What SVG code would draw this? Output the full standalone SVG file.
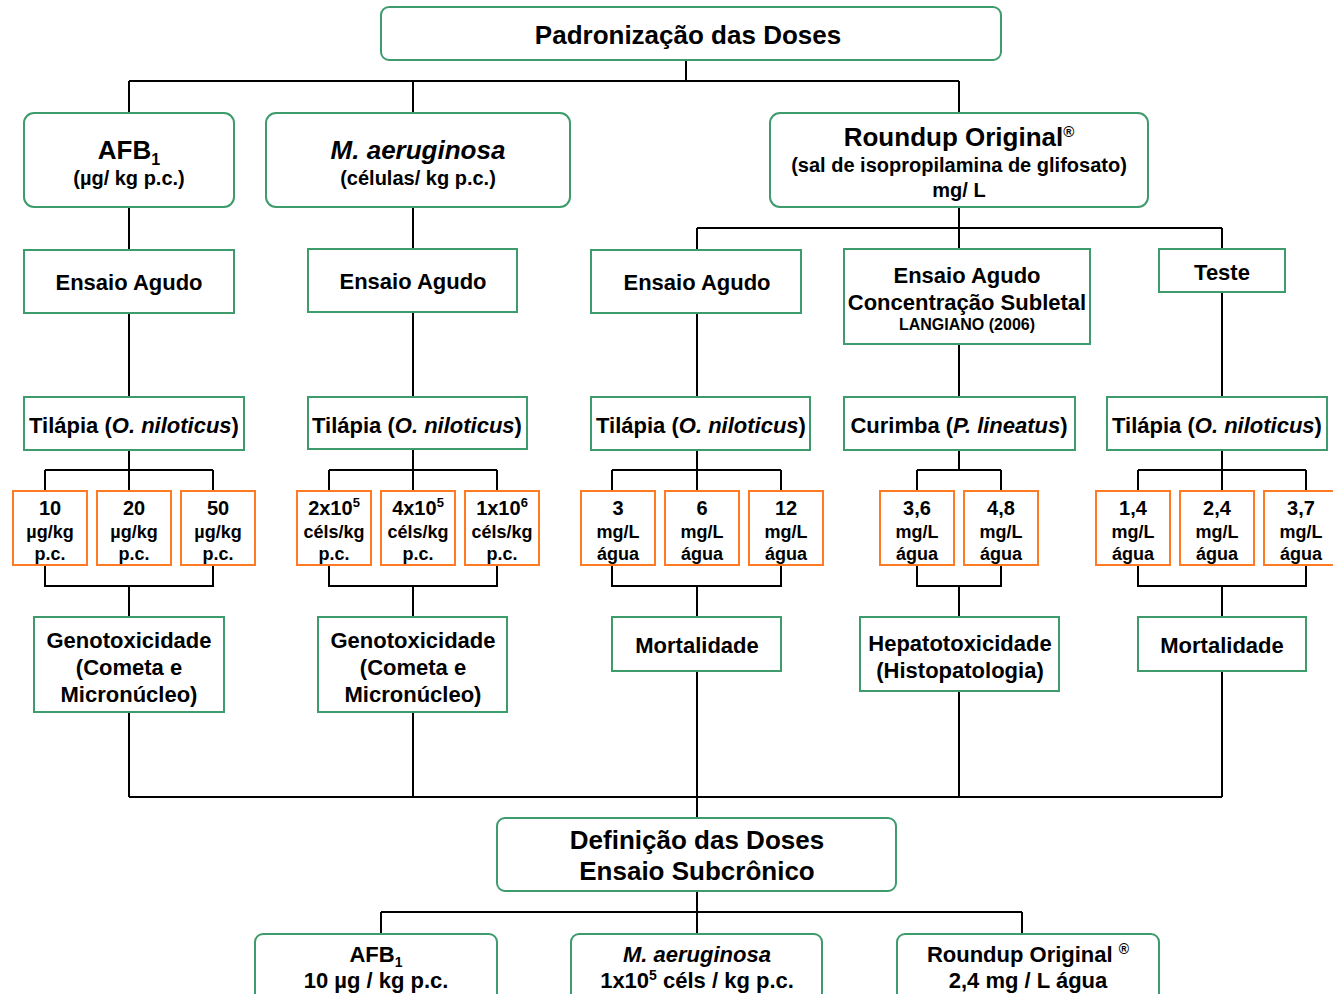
<svg xmlns="http://www.w3.org/2000/svg" width="1333" height="994" viewBox="0 0 1333 994">
<style>
text{font-family:"Liberation Sans",Arial,sans-serif;font-weight:bold;fill:#000;text-anchor:middle}
.g{fill:#fff;stroke:#3d9b6c;stroke-width:2}
.o{fill:#fff;stroke:#ff7a22;stroke-width:2}
.c{fill:none;stroke:#000;stroke-width:2}
.t26{font-size:26px}.t22{font-size:22px}.t20{font-size:20px}.t18{font-size:18px}.t16{font-size:16px}
.i{font-style:italic}
</style>
<rect width="1333" height="994" fill="#fff"/>
<g id="connectors" class="c">
<path d="M686 60V81M129 81H959M129 81V113M413 81V113M959 81V113"/>
<path d="M129 207V250M413 207V249M959 207V228M697 228H1222M697 228V250M959 228V249M1222 228V249"/>
<path d="M129 313V397M413 312V397M697 313V397M959 344V397M1222 292V397"/>
<path d="M129 450V470M45 470H213M45 470V491M129 470V491M213 470V491M45 565V586H213V565M129 586V617"/>
<path d="M413 449V470M329 470H497M329 470V491M413 470V491M497 470V491M329 565V586H497V565M413 586V617"/>
<path d="M697 450V470M612 470H781M612 470V491M697 470V491M781 470V491M612 565V586H781V565M697 586V617"/>
<path d="M959 450V470M917 470H1001M917 470V491M1001 470V491M917 565V586H1001V565M959 586V617"/>
<path d="M1222 450V470M1138 470H1306M1138 470V491M1222 470V491M1306 470V491M1138 565V586H1306V565M1222 586V617"/>
<path d="M129 712V797M413 712V797M697 671V818M959 691V797M1222 671V797M129 797H1222"/>
<path d="M697 891V912M381 912H1022M381 912V934M697 912V934M1022 912V934"/>
</g>
<g id="top"><rect class="g" x="381" y="7" width="620" height="53" rx="8"/><text class="t26" x="688" y="44">Padronização das Doses</text></g>
<g id="afb1"><rect class="g" x="24" y="113" width="210" height="94" rx="10"/><text class="t26" x="129" y="159">AFB<tspan font-size="16" dy="6">1</tspan></text><text class="t20" x="129" y="185">(µg/ kg p.c.)</text></g>
<g id="maer"><rect class="g" x="266" y="113" width="304" height="94" rx="10"/><text class="t26 i" x="418" y="159">M. aeruginosa</text><text class="t20" x="418" y="185">(células/ kg p.c.)</text></g>
<g id="roundup"><rect class="g" x="770" y="113" width="378" height="94" rx="10"/><text class="t26" x="959" y="146">Roundup Original<tspan font-size="15" dy="-9">®</tspan></text><text class="t20" x="959" y="172">(sal de isopropilamina de glifosato)</text><text class="t20" x="959" y="197">mg/ L</text></g>
<g id="ea1"><rect class="g" x="24" y="250" width="210" height="63"/><text class="t22" x="129" y="290">Ensaio Agudo</text></g>
<g id="ea2"><rect class="g" x="308" y="249" width="209" height="63"/><text class="t22" x="413" y="289">Ensaio Agudo</text></g>
<g id="ea3"><rect class="g" x="591" y="250" width="210" height="63"/><text class="t22" x="697" y="290">Ensaio Agudo</text></g>
<g id="ea4"><rect class="g" x="844" y="249" width="246" height="95"/><text class="t22" x="967" y="283">Ensaio Agudo</text><text class="t22" x="967" y="310">Concentração Subletal</text><text class="t16" x="967" y="330">LANGIANO (2006)</text></g>
<g id="teste"><rect class="g" x="1159" y="249" width="126" height="43"/><text class="t22" x="1222" y="280">Teste</text></g>
<g id="til1"><rect class="g" x="24" y="397" width="220" height="53"/><text class="t22" x="134" y="433">Tilápia (<tspan class="i">O. niloticus</tspan>)</text></g>
<g id="til2"><rect class="g" x="308" y="397" width="219" height="52"/><text class="t22" x="417" y="433">Tilápia (<tspan class="i">O. niloticus</tspan>)</text></g>
<g id="til3"><rect class="g" x="591" y="397" width="219" height="53"/><text class="t22" x="701" y="433">Tilápia (<tspan class="i">O. niloticus</tspan>)</text></g>
<g id="curimba"><rect class="g" x="844" y="397" width="231" height="53"/><text class="t22" x="959" y="433">Curimba (<tspan class="i">P. lineatus</tspan>)</text></g>
<g id="til5"><rect class="g" x="1107" y="397" width="220" height="53"/><text class="t22" x="1217" y="433">Tilápia (<tspan class="i">O. niloticus</tspan>)</text></g>
<g id="d10"><rect class="o" x="13" y="491" width="74" height="74"/><text class="t20" x="50" y="515">10</text><text class="t18" x="50" y="538">µg/kg</text><text class="t18" x="50" y="560">p.c.</text></g>
<g id="d20"><rect class="o" x="97" y="491" width="74" height="74"/><text class="t20" x="134" y="515">20</text><text class="t18" x="134" y="538">µg/kg</text><text class="t18" x="134" y="560">p.c.</text></g>
<g id="d50"><rect class="o" x="181" y="491" width="74" height="74"/><text class="t20" x="218" y="515">50</text><text class="t18" x="218" y="538">µg/kg</text><text class="t18" x="218" y="560">p.c.</text></g>
<g id="m2"><rect class="o" x="297" y="491" width="74" height="74"/><text class="t20" x="334" y="515">2x10<tspan font-size="13" dy="-8">5</tspan></text><text class="t18" x="334" y="538">céls/kg</text><text class="t18" x="334" y="560">p.c.</text></g>
<g id="m4"><rect class="o" x="381" y="491" width="74" height="74"/><text class="t20" x="418" y="515">4x10<tspan font-size="13" dy="-8">5</tspan></text><text class="t18" x="418" y="538">céls/kg</text><text class="t18" x="418" y="560">p.c.</text></g>
<g id="m1"><rect class="o" x="465" y="491" width="74" height="74"/><text class="t20" x="502" y="515">1x10<tspan font-size="13" dy="-8">6</tspan></text><text class="t18" x="502" y="538">céls/kg</text><text class="t18" x="502" y="560">p.c.</text></g>
<g id="r3"><rect class="o" x="581" y="491" width="74" height="74"/><text class="t20" x="618" y="515">3</text><text class="t18" x="618" y="538">mg/L</text><text class="t18" x="618" y="560">água</text></g>
<g id="r6"><rect class="o" x="665" y="491" width="74" height="74"/><text class="t20" x="702" y="515">6</text><text class="t18" x="702" y="538">mg/L</text><text class="t18" x="702" y="560">água</text></g>
<g id="r12"><rect class="o" x="749" y="491" width="74" height="74"/><text class="t20" x="786" y="515">12</text><text class="t18" x="786" y="538">mg/L</text><text class="t18" x="786" y="560">água</text></g>
<g id="r36"><rect class="o" x="880" y="491" width="74" height="74"/><text class="t20" x="917" y="515">3,6</text><text class="t18" x="917" y="538">mg/L</text><text class="t18" x="917" y="560">água</text></g>
<g id="r48"><rect class="o" x="964" y="491" width="74" height="74"/><text class="t20" x="1001" y="515">4,8</text><text class="t18" x="1001" y="538">mg/L</text><text class="t18" x="1001" y="560">água</text></g>
<g id="r14"><rect class="o" x="1096" y="491" width="74" height="74"/><text class="t20" x="1133" y="515">1,4</text><text class="t18" x="1133" y="538">mg/L</text><text class="t18" x="1133" y="560">água</text></g>
<g id="r24"><rect class="o" x="1180" y="491" width="74" height="74"/><text class="t20" x="1217" y="515">2,4</text><text class="t18" x="1217" y="538">mg/L</text><text class="t18" x="1217" y="560">água</text></g>
<g id="r37"><rect class="o" x="1264" y="491" width="74" height="74"/><text class="t20" x="1301" y="515">3,7</text><text class="t18" x="1301" y="538">mg/L</text><text class="t18" x="1301" y="560">água</text></g>
<g id="geno1"><rect class="g" x="34" y="617" width="190" height="95"/><text class="t22" x="129" y="648">Genotoxicidade</text><text class="t22" x="129" y="675">(Cometa e</text><text class="t22" x="129" y="702">Micronúcleo)</text></g>
<g id="geno2"><rect class="g" x="318" y="617" width="189" height="95"/><text class="t22" x="413" y="648">Genotoxicidade</text><text class="t22" x="413" y="675">(Cometa e</text><text class="t22" x="413" y="702">Micronúcleo)</text></g>
<g id="mort1"><rect class="g" x="612" y="617" width="169" height="54"/><text class="t22" x="697" y="653">Mortalidade</text></g>
<g id="hepato"><rect class="g" x="860" y="617" width="199" height="74"/><text class="t22" x="960" y="651">Hepatotoxicidade</text><text class="t22" x="960" y="678">(Histopatologia)</text></g>
<g id="mort2"><rect class="g" x="1138" y="617" width="168" height="54"/><text class="t22" x="1222" y="653">Mortalidade</text></g>
<g id="defin"><rect class="g" x="497" y="818" width="399" height="73" rx="8"/><text class="t26" x="697" y="849">Definição das Doses</text><text class="t26" x="697" y="880">Ensaio Subcrônico</text></g>
<g id="b_afb"><rect class="g" x="255" y="934" width="242" height="80" rx="8"/><text class="t22" x="376" y="962">AFB<tspan font-size="14" dy="5">1</tspan></text><text class="t22" x="376" y="988">10 µg / kg p.c.</text></g>
<g id="b_maer"><rect class="g" x="571" y="934" width="251" height="80" rx="8"/><text class="t22 i" x="697" y="962">M. aeruginosa</text><text class="t22" x="697" y="988">1x10<tspan font-size="14" dy="-8">5</tspan><tspan dy="8"> céls / kg p.c.</tspan></text></g>
<g id="b_round"><rect class="g" x="897" y="934" width="262" height="80" rx="8"/><text class="t22" x="1028" y="962">Roundup Original <tspan font-size="14" dy="-8">®</tspan></text><text class="t22" x="1028" y="988">2,4 mg / L água</text></g>
</svg>
